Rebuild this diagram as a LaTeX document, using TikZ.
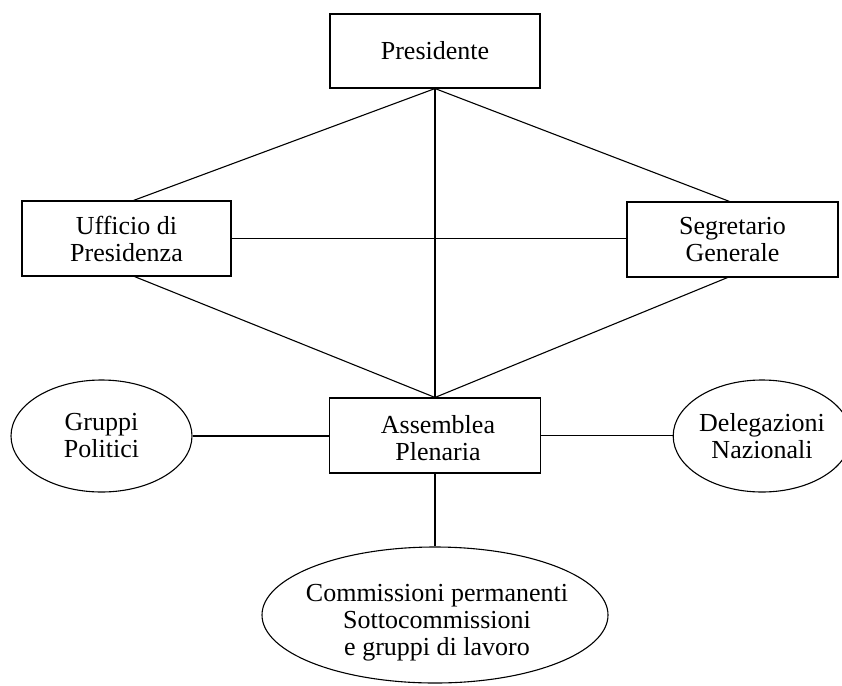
\documentclass[tikz,border=0pt]{standalone}
\usepackage{fontspec}
\setmainfont{Liberation Serif}
\usetikzlibrary{shapes.geometric}

\tikzset{
  orgtext/.style={font=\fontsize{26}{27}\selectfont, align=center, inner sep=0pt},
  orgbox/.style={orgtext, draw, rectangle, line width=1.1pt},
  orgoval/.style={orgtext, draw, ellipse, line width=1.1pt},
  link/.style={line width=1.1pt}
}

\begin{document}
\begin{tikzpicture}[x=1pt, y=-1pt]
  \useasboundingbox (0,0) rectangle (842,685);

  % boxes
  \node[orgbox, minimum width=210pt, minimum height=74pt] (pres) at (435,51) {Presidente};
  \node[orgbox, minimum width=209pt, minimum height=75pt] (uff) at (126.5,238.5) {Ufficio di\\Presidenza};
  \node[orgbox, minimum width=211pt, minimum height=75pt] (seg) at (732.5,239.5) {Segretario\\Generale};
  \node[orgbox, minimum width=211pt, minimum height=75pt] (ass) at (435,435.5) {};
  \node[orgtext] (asstext) at (438,438.5) {Assemblea\\Plenaria};

  % ovals
  \node[orgoval, minimum width=181pt, minimum height=112pt] (grp) at (101.5,436) {Gruppi\\Politici};
  \node[orgoval, minimum width=176pt, minimum height=112pt] (del) at (762,436) {Delegazioni\\Nazionali};
  \node[orgoval, minimum width=346pt, minimum height=136pt] (com) at (435,615) {};
  \node[orgtext] (comtext) at (437,623) {Commissioni permanenti\\Sottocommissioni\\e gruppi di lavoro};

  % connections
  \draw[link] (pres.south) -- ([xshift=7pt]uff.north);
  \draw[link] (pres.south) -- ([xshift=-3pt]seg.north);
  \draw[link] (pres.south) -- (ass.north);
  \draw[link] (uff.east) -- (uff.east -| seg.west);
  \draw[link] ([xshift=8pt]uff.south) -- (ass.north);
  \draw[link] ([xshift=-5pt]seg.south) -- (ass.north);
  \draw[link] (grp.east) -- (grp.east -| ass.west);
  \draw[link] (ass.east) -- (ass.east -| del.west);
  \draw[link] (ass.south) -- (com.north);
\end{tikzpicture}
\end{document}
